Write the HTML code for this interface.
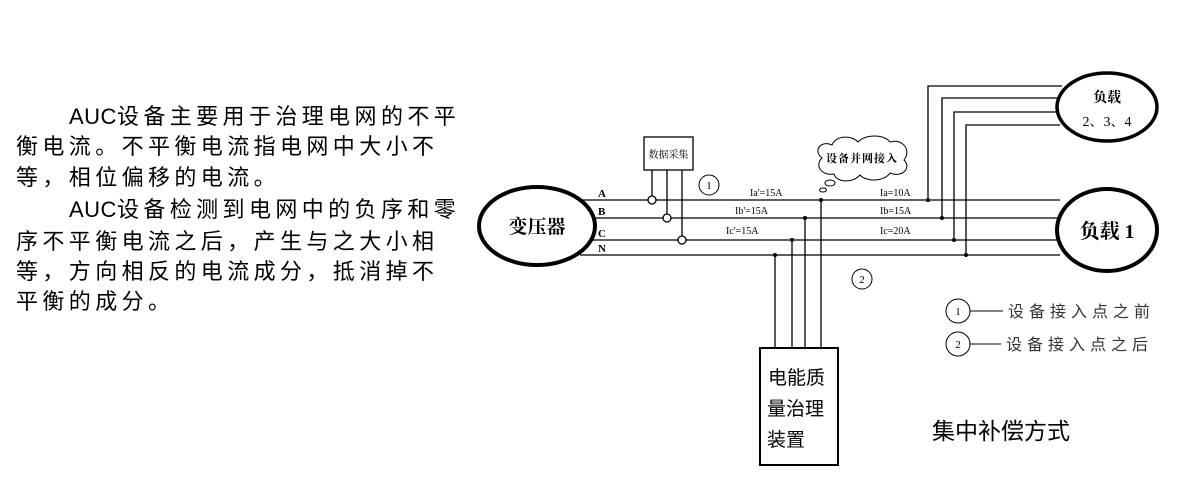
<!DOCTYPE html>
<html><head><meta charset="utf-8"><style>
body{margin:0;width:1180px;height:492px;background:#fff;position:relative;overflow:hidden;font-family:"Liberation Sans","Noto Sans CJK SC",sans-serif;}
.t{position:absolute;left:16px;font-size:22px;letter-spacing:4.4px;white-space:nowrap;color:#000;line-height:30px;}
.a{letter-spacing:0.5px;}
</style></head><body>
<div class="t" style="top:102px;left:69px"><span class="a">AUC</span>设备主要用于治理电网的不平</div>
<div class="t" style="top:132px">衡电流。不平衡电流指电网中大小不</div>
<div class="t" style="top:163px">等，相位偏移的电流。</div>
<div class="t" style="top:195px;left:69px"><span class="a">AUC</span>设备检测到电网中的负序和零</div>
<div class="t" style="top:227px">序不平衡电流之后，产生与之大小相</div>
<div class="t" style="top:257px">等，方向相反的电流成分，抵消掉不</div>
<div class="t" style="top:287px">平衡的成分。</div>
<svg width="1180" height="492" style="position:absolute;left:0;top:0" font-family="Liberation Serif,Noto Serif CJK SC,serif">
<g stroke="#000" stroke-width="1.3" fill="none">
<line x1="580" y1="200" x2="1060" y2="200"/>
<line x1="592" y1="218" x2="1058" y2="218"/>
<line x1="592" y1="240" x2="1058" y2="240"/>
<line x1="580" y1="255" x2="1060" y2="255"/>
<polyline points="928,200 928,86 1062,86"/>
<polyline points="942,218 942,98 1058,98"/>
<polyline points="954,240 954,112 1058,112"/>
<polyline points="966,255 966,125 1060,125"/>
<line x1="821" y1="200" x2="821" y2="348"/>
<line x1="805" y1="218" x2="805" y2="348"/>
<line x1="792" y1="240" x2="792" y2="348"/>
<line x1="775" y1="255" x2="775" y2="348"/>
<line x1="652" y1="170" x2="652" y2="196"/>
<line x1="667" y1="170" x2="667" y2="214"/>
<line x1="682" y1="170" x2="682" y2="236"/>
</g>
<g fill="#000">
<circle cx="928" cy="200" r="2"/><circle cx="942" cy="218" r="2"/><circle cx="954" cy="240" r="2"/><circle cx="966" cy="255" r="2"/>
<circle cx="821" cy="200" r="2"/><circle cx="805" cy="218" r="2"/><circle cx="792" cy="240" r="2"/><circle cx="775" cy="255" r="2"/>
</g>
<g stroke="#000" stroke-width="1.3" fill="#fff">
<circle cx="652" cy="200" r="4"/><circle cx="667" cy="218" r="4"/><circle cx="682" cy="240" r="4"/>
</g>
<ellipse cx="537" cy="226" rx="58" ry="39" fill="#fff" stroke="#000" stroke-width="4"/>
<text x="537" y="233" font-size="19" font-weight="bold" text-anchor="middle">变压器</text>
<ellipse cx="1107" cy="230" rx="50" ry="41" fill="#fff" stroke="#000" stroke-width="4"/>
<text x="1107" y="238" font-size="20" font-weight="bold" text-anchor="middle">负载 1</text>
<ellipse cx="1107" cy="107" rx="50" ry="34" fill="#fff" stroke="#000" stroke-width="3.5"/>
<text x="1107" y="102" font-size="14" font-weight="bold" text-anchor="middle">负载</text>
<text x="1107" y="126" font-size="14" text-anchor="middle">2、3、4</text>
<g font-size="11" font-weight="bold"><text x="598" y="197">A</text><text x="598" y="215">B</text><text x="598" y="237">C</text><text x="598" y="252">N</text></g>
<g font-size="10"><text x="750" y="196">Ia'=15A</text><text x="735" y="214">Ib'=15A</text><text x="726" y="234">Ic'=15A</text>
<text x="880" y="196">Ia=10A</text><text x="880" y="214">Ib=15A</text><text x="880" y="234">Ic=20A</text></g>
<rect x="644" y="137" width="49" height="33" fill="#fff" stroke="#000" stroke-width="1.3"/>
<text x="668.5" y="158" font-size="10" text-anchor="middle">数据采集</text>
<g stroke="#000" stroke-width="1" fill="#fff">
<circle cx="709" cy="185" r="10"/><circle cx="862" cy="279" r="10"/>
<circle cx="958" cy="311" r="12"/><circle cx="958" cy="344" r="12"/>
<line x1="970" y1="311" x2="1003" y2="311"/><line x1="970" y1="344" x2="1001" y2="344"/>
</g>
<g font-size="11" text-anchor="middle"><text x="709" y="189">1</text><text x="862" y="283">2</text><text x="958" y="315">1</text><text x="958" y="348">2</text></g>
<g font-size="16" fill="#333" font-family="Liberation Sans,Noto Sans CJK SC,sans-serif" letter-spacing="5"><text x="1008" y="317">设备接入点之前</text><text x="1006" y="350">设备接入点之后</text></g>
<g stroke="#000" stroke-width="1" fill="#fff">
<path d="M822,158 C812,150 822,140 832,145 C836,135 852,135 858,142 C866,134 884,134 890,142 C902,138 912,150 904,160 C912,168 902,178 890,173 C884,182 866,182 860,175 C852,184 836,182 834,174 C822,176 814,166 822,158 Z"/>
<ellipse cx="830" cy="183" rx="5" ry="3"/><ellipse cx="823" cy="190" rx="3.5" ry="2"/>
</g>
<text x="862" y="162" font-size="11" font-weight="bold" text-anchor="middle" letter-spacing="1">设备并网接入</text>
<rect x="760" y="348" width="78" height="117" fill="#fff" stroke="#000" stroke-width="2"/>
<g font-size="19" font-family="Liberation Sans,Noto Sans CJK SC,sans-serif"><text x="768" y="384">电能质</text><text x="767" y="415">量治理</text><text x="767" y="446">装置</text></g>
<text x="932" y="439" font-size="23" font-family="Liberation Sans,Noto Sans CJK SC,sans-serif">集中补偿方式</text>
</svg>
</body></html>
